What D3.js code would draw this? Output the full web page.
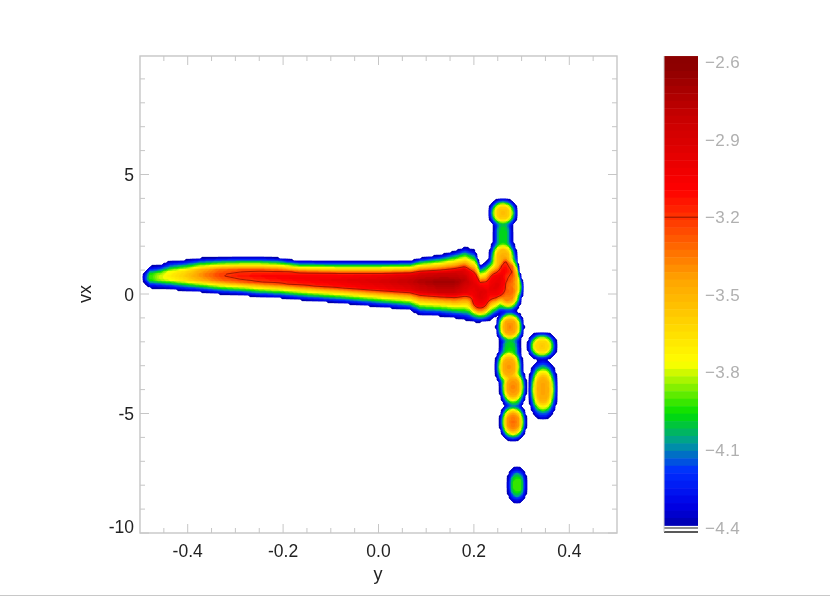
<!DOCTYPE html>
<html><head><meta charset="utf-8">
<script src="https://cdn.jsdelivr.net/npm/d3@7"></script>
<style>html,body{margin:0;padding:0;background:#fff}svg{display:block}text{font-family:"Liberation Sans",Arial,sans-serif}</style>
</head><body><svg id="c" width="830" height="596"></svg>
<script>
// Main ridge, read column by column: position y, upper edge vx, lower edge vx, core vx, peak log density
const ridgeY    = [-.4948,-.4874,-.4790,-.4581,-.4371,-.4057,-.3742,-.3323,-.2904,-.2484,-.2065,-.1646,-.0807,.0031,.0660,.0870,.1289,.1604,.1813,.2023,.2128,.2254,.2338,.2484,.2652,.2799,.2883,.2945,.3029];
const ridgeTop  = [.795,1.004,1.172,1.213,1.381,1.423,1.506,1.527,1.548,1.548,1.506,1.381,1.381,1.381,1.381,1.506,1.632,1.799,1.967,1.841,1.213,1.339,1.506,2.05,2.05,1.757,1.632,1.088,.418];
const ridgeBot  = [.586,.377,.251,.251,.209,.126,.084,0,-.042,-.126,-.167,-.251,-.377,-.544,-.669,-.879,-.921,-1.004,-1.088,-1.172,-1.172,-1.13,-1.088,-.921,-.753,-.544,-.418,-.209,.167];
const ridgeCore = [.69,.69,.711,.711,.753,.774,.795,.795,.774,.753,.711,.669,.586,.544,.544,.544,.502,.502,.586,.377,.084,.084,.167,.293,1.088,.921,.6,.293,.293];
const ridgePeak = [-4.38,-4.15,-3.9,-3.78,-3.68,-3.56,-3.38,-3.2,-3.12,-3.08,-3.05,-3.02,-2.97,-2.88,-2.78,-2.72,-2.66,-2.68,-2.78,-2.95,-2.95,-2.98,-3.0,-3.0,-3.05,-3.2,-3.45,-3.8,-4.35];

// Separate clumps: centre (y, vx), visible radii (y, vx), peak log density
const blobY  = [.2715,.2778,.2610,.2610,.2610,.2757,.2757,.2736,.2820,.2841,.2820,.3428,.3449,.2904,.2484,.2128];
const blobVx = [.042,.209,1.506,2.469,3.389,-1.381,-2.259,-3.054,-3.891,-4.393,-5.356,-2.176,-3.996,-7.992,.377,-.126];
const blobRy = [.0294,.0252,.0294,.021,.0304,.0294,.0231,.0294,.0283,.0189,.0283,.0314,.0304,.021,.0377,.0356];
const blobRv = [.837,.586,.837,.92,.607,.711,.628,.879,.879,.418,.795,.586,1.255,.774,1.046,1.004];
const blobPk = [-3.3,-3.4,-3.45,-3.95,-3.5,-3.35,-3.95,-3.38,-3.35,-4.0,-3.3,-3.55,-3.4,-3.88,-3.0,-2.98];

const xTicks = [-0.4,-0.2,0,0.2,0.4];
const yTicks = [-10,-5,0,5];
const cbTicks = [-2.6,-2.9,-3.2,-3.5,-3.8,-4.1,-4.4];
const colorStops = [-4.42,-4.3,-4.165,-4.06,-3.945,-3.75,-3.43,-3.08,-2.8,-2.6];
const colorVals  = ["#00008c","#0000e6","#0030ff","#009c9c","#00e000","#ffff00","#ffa500","#ff0000","#c80000","#8c0000"];
const FLOOR = -4.4, SHARP = 4, BLOB_POWER = 2.3;

const svg = d3.select("#c");
const x = d3.scaleLinear().domain([-0.5,0.5]).range([140,617]);
const y = d3.scaleLinear().domain([-10,10]).range([533,55]);
const cb = d3.scaleLinear().domain([-2.6,-4.4]).range([62,527.6]);
const color = d3.scaleLinear().domain(colorStops).range(colorVals).clamp(true);
// cross-section profiles: fraction of the peak-to-floor drop at relative radius
const profile = d3.scaleLinear().domain([0,.3,.5,.7,.85,1,2]).range([0,.1,.4,.65,.83,1,4]);
const blobProfile = d3.scaleLinear().domain([0,.4,.6,.75,.9,1,2]).range([0,.08,.35,.65,.85,1,4]);
const rTop = d3.scaleLinear().domain(ridgeY).range(ridgeTop);
const rBot = d3.scaleLinear().domain(ridgeY).range(ridgeBot);
const rCore = d3.scaleLinear().domain(ridgeY).range(ridgeCore);
const rPeak = d3.scaleLinear().domain(ridgeY).range(ridgePeak);
const yMin = ridgeY[0], yMax = ridgeY[ridgeY.length-1];

const step = 2, x0 = 140, y0 = 56, nx = Math.round(477/step)+1, ny = Math.round(477/step)+1;
const field = new Float64Array(nx*ny);
for (let j=0;j<ny;j++) for (let i=0;i<nx;i++){
  const Y = x.invert(x0+i*step), V = y.invert(y0+j*step);
  let s = 0;
  if (Y>=yMin && Y<=yMax){
    const c=rCore(Y), p=rPeak(Y);
    const r = V>=c ? (V-c)/Math.max(rTop(Y)-c,.05) : (c-V)/Math.max(c-rBot(Y),.05);
    s += Math.pow(10,SHARP*(p-(p-FLOOR)*profile(r)));
  }
  blobY.forEach((by,k)=>{
    const dx=Math.abs(Y-by)/blobRy[k], dy=Math.abs(V-blobVx[k])/blobRv[k];
    const rr = Math.pow(Math.pow(dx,BLOB_POWER)+Math.pow(dy,BLOB_POWER),1/BLOB_POWER);
    s += Math.pow(10,SHARP*(blobPk[k]-(blobPk[k]-FLOOR)*blobProfile(rr)));
  });
  field[j*nx+i] = s>0 ? Math.log10(s)/SHARP : -9;
}
const gen = d3.contours().size([nx,ny]).smooth(false);
const project = d3.geoPath(d3.geoTransform({point(a,b){this.stream.point(x0+(a-.5)*step,y0+(b-.5)*step);}}));
const levels = d3.range(-4.4,-2.6,0.03);
const g = svg.append("g").attr("class","density").style("filter","blur(0.6px)");
levels.forEach(l=>{
  g.append("path").attr("d",project(gen.contour(field,l))).attr("fill",color(l+0.015)).attr("stroke",color(l+0.015)).attr("stroke-width",.3);
});
const smoothGen = d3.contours().size([nx,ny]).smooth(true);
g.append("path").attr("d",project(smoothGen.contour(field,-3.2))).attr("fill","none").attr("stroke","#8c1400").attr("stroke-width",.8);

// Frame & ticks
const frame = "#c6c6c6";
const ax = svg.append("g").attr("stroke",frame).attr("stroke-width",1.4).attr("fill","none").style("filter","blur(0.25px)");
ax.append("rect").attr("x",x(-0.5)).attr("y",y(10)+1).attr("width",x(0.5)-x(-0.5)).attr("height",y(-10)-y(10)-1);
const plotTop=y(10)+1, plotBot=y(-10), plotL=x(-0.5), plotR=x(0.5);
d3.range(-0.45,0.5,0.05).forEach(v=>{
  const maj = Math.abs(Math.round(v*5)/5-v)<1e-6, len=maj?9:5, px=x(v);
  ax.append("path").attr("d",`M${px},${plotBot}v${-len}M${px},${plotTop}v${len}`).attr("stroke-width",1);
});
d3.range(-10,10,1).forEach(v=>{
  const maj = v%5===0, len=maj?9:5, py=y(v);
  ax.append("path").attr("d",`M${plotL},${py}h${len}M${plotR},${py}h${-len}`).attr("stroke-width",1);
});
const tx = svg.append("g").attr("fill","#222").attr("font-size",17.5).style("filter","blur(0.3px)");
xTicks.forEach(v=>tx.append("text").attr("x",x(v)).attr("y",557).attr("text-anchor","middle").text(d3.format(".1f")(v).replace("−","-")));
yTicks.forEach(v=>tx.append("text").attr("x",134).attr("y",v===-10?532.5:y(v)+6.5).attr("text-anchor","end").text(v));
tx.append("text").attr("x",378).attr("y",580).attr("text-anchor","middle").attr("font-size",18).text("y");
tx.append("text").attr("transform","translate(91,294) rotate(-90)").attr("text-anchor","middle").attr("font-size",18).text("vx");

// Colour bar
const cbL=664, cbW=34, cbStep=0.0288, cbLevels=d3.range(-2.577,-4.38,-cbStep);
const cg = svg.append("g").style("filter","blur(0.3px)");
cbLevels.forEach(l=>{
  cg.append("rect").attr("x",cbL).attr("width",cbW).attr("y",cb(l)).attr("height",cb(l-cbStep)-cb(l)+.5).attr("fill",color(l));
});
cg.append("line").attr("x1",cbL).attr("x2",cbL+cbW).attr("y1",cb(-3.2)).attr("y2",cb(-3.2)).attr("stroke","#8c1400");
cg.append("line").attr("x1",cbL).attr("x2",cbL+cbW).attr("y1",528).attr("y2",528).attr("stroke","#222");
cg.append("rect").attr("x",cbL).attr("width",cbW).attr("y",529).attr("height",2.4).attr("fill","#fff");
cg.append("line").attr("x1",cbL).attr("x2",cbL+cbW).attr("y1",532).attr("y2",532).attr("stroke","#222").attr("stroke-width",1.4);
cg.append("line").attr("x1",cbL).attr("x2",cbL).attr("y1",56).attr("y2",532).attr("stroke","#ccc");
const ct = svg.append("g").style("filter","blur(0.3px)");
cbTicks.forEach(v=>{
  ct.append("text").attr("x",705).attr("y",cb(v)+6).attr("fill","#b0b0b0").attr("font-size",17).attr("letter-spacing",.4).text(d3.format(".1f")(v));
});
// Bottom rule
svg.append("line").attr("x1",0).attr("x2",830).attr("y1",595.5).attr("y2",595.5).attr("stroke","#c8c8c8");
</script></body></html>
